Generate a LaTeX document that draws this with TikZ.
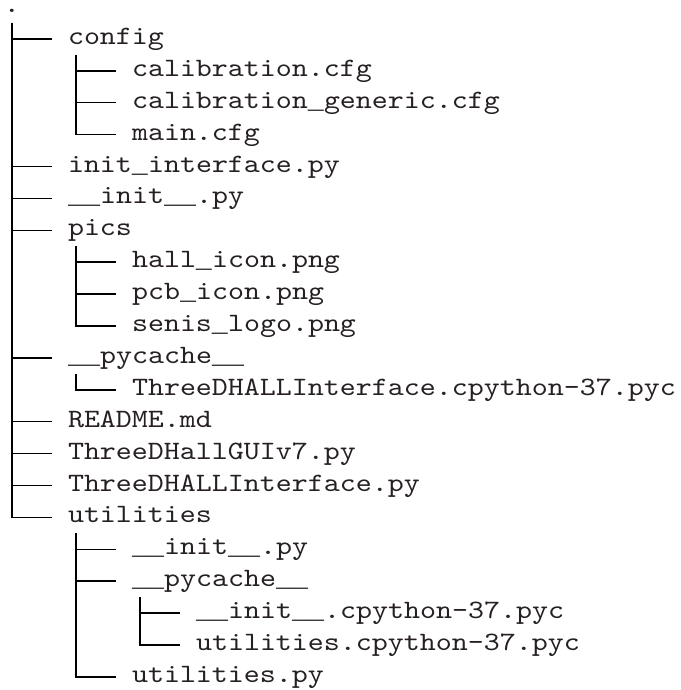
\documentclass[tikz,border=0pt]{standalone}
\usepackage{fontspec}
\newfontfamily\treemono[FakeStretch=1.15]{lmmono10-regular.otf}
\newfontfamily\usfont{Liberation Mono}
\usetikzlibrary{calc}
\definecolor{txtc}{RGB}{38,32,32}
\newcommand{\us}{{\usfont\fontsize{26.67pt}{32pt}\selectfont\_}}
\tikzset{
  tx/.style={anchor=base west, inner sep=0pt, outer sep=0pt,
    font=\treemono\fontsize{26.5pt}{32pt}\selectfont, text=txtc},
  conn/.style={line width=1.5pt, draw=black}
}
\newcommand{\treelink}[2]{\draw[conn] ($(#1.base west)+(8,10.5)$) |- ($(#2.base west)+(-16,-5.5)$);}
\begin{document}
\begin{tikzpicture}[x=1pt,y=-1pt]
\useasboundingbox (0,0) rectangle (680,690);
% rows: center = 7 + 31.9 r, baseline = center + 5.5
\node[tx] (r0)  at (4,12.5)    {.};
\node[tx] (r1)  at (68,44.4)   {config};
\node[tx] (r2)  at (132,76.3)  {calibration.cfg};
\node[tx] (r3)  at (132,108.2) {calibration\us generic.cfg};
\node[tx] (r4)  at (132,140.1) {main.cfg};
\node[tx] (r5)  at (68,172.0)  {init\us interface.py};
\node[tx] (r6)  at (68,203.9)  {\us\us init\us\us.py};
\node[tx] (r7)  at (68,235.8)  {pics};
\node[tx] (r8)  at (132,267.7) {hall\us icon.png};
\node[tx] (r9)  at (132,299.6) {pcb\us icon.png};
\node[tx] (r10) at (132,331.5) {senis\us logo.png};
\node[tx] (r11) at (68,363.4)  {\us\us pycache\us\us};
\node[tx] (r12) at (132,395.3) {ThreeDHALLInterface.cpython-37.pyc};
\node[tx] (r13) at (68,427.2)  {README.md};
\node[tx] (r14) at (68,459.1)  {ThreeDHallGUIv7.py};
\node[tx] (r15) at (68,491.0)  {ThreeDHALLInterface.py};
\node[tx] (r16) at (68,522.9)  {utilities};
\node[tx] (r17) at (132,554.8) {\us\us init\us\us.py};
\node[tx] (r18) at (132,586.7) {\us\us pycache\us\us};
\node[tx] (r19) at (196,618.6) {\us\us init\us\us.cpython-37.pyc};
\node[tx] (r20) at (196,650.5) {utilities.cpython-37.pyc};
\node[tx] (r21) at (132,682.4) {utilities.py};
% connectors
\foreach \c in {r1,r5,r6,r7,r11,r13,r14,r15,r16} {\treelink{r0}{\c}}
\foreach \c in {r2,r3,r4} {\treelink{r1}{\c}}
\foreach \c in {r8,r9,r10} {\treelink{r7}{\c}}
\treelink{r11}{r12}
\foreach \c in {r17,r18,r21} {\treelink{r16}{\c}}
\foreach \c in {r19,r20} {\treelink{r18}{\c}}
\end{tikzpicture}
\end{document}
